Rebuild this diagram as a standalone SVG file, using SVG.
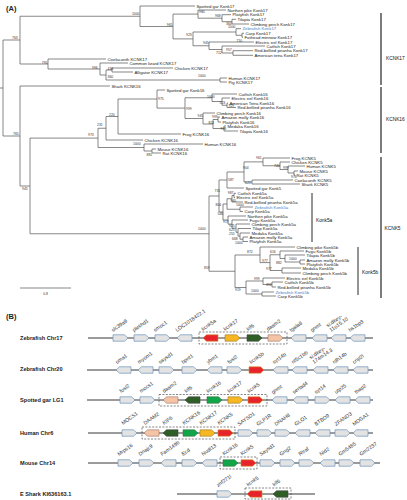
<svg xmlns="http://www.w3.org/2000/svg" width="407" height="500" viewBox="0 0 407 500">
<style>
text{font-family:"Liberation Sans",Arial,sans-serif;fill:#222}
.lf{font-size:4.3px}
.bl{fill:#3f7fc6}
.bs{font-size:3.4px;fill:#333}
.br{font-size:4.8px;fill:#111}
.hd{font-size:7.5px;font-weight:bold}
.rl{font-size:5.6px;font-weight:bold}
.gt{font-size:5.2px;fill:#333}
.tr{fill:none;stroke:#555;stroke-width:.7}
.bk{fill:none;stroke:#111;stroke-width:1.1}
.bb{fill:none;stroke:#111;stroke-width:.9}
.ln{stroke:#222;stroke-width:.9}
.bx{fill:none;stroke:#333;stroke-width:.6;stroke-dasharray:2 1.4}
.g{fill:#e3e3e3;stroke:#6b93bd;stroke-width:.7}
.r{fill:#e8222b;stroke:#c9952e;stroke-width:.6}
.y{fill:#f6b722;stroke:#9a7a30;stroke-width:.6}
.dg{fill:#2f5e27;stroke:#444;stroke-width:.6}
.lg{fill:#12a64b;stroke:#3d6e3d;stroke-width:.6}
.s{fill:#f5c3a6;stroke:#9a7a6a;stroke-width:.6}
</style>
<defs>
<path id="gr" d="M0,-3.2H11.5L15,0L11.5,3.2H0Z"/>
<path id="gl" d="M0,0L3.5,-3.2H15V3.2H3.5Z"/>
</defs>
<rect x="0" y="0" width="407" height="500" fill="#fff"/>
<text class="hd" x="6" y="11">(A)</text>
<g id="connectors">
<path class="tr" d="M3 40V136M0 88H3M3 40H20M3 136H20
M20 16.25V64M20 16.25H140M20 64H48
M140 6V26.5M140 6H195M140 26.5H173
M173 14.1V38.9M173 14.1H198M173 38.9H193
M198 10V18.2M198 10H226M198 18.2H222
M222 14.7V21.7M222 14.7H231M222 21.7H232
M232 19.3V24M232 19.3H236M232 24H249
M193 32V45.75M193 32H236M193 45.75H209
M236 28.7V35.3M236 28.7H241M236 35.3H242
M242 33.3V37.3M242 33.3H244M242 37.3H243
M209 42V49.5M209 42H254M209 49.5H222
M222 46V53M222 46H265M222 53H233
M233 50.7V55.3M233 50.7H253M233 55.3H253
M48 59V69M48 59H106M48 69H100
M100 63V75M100 63H128M100 75H106
M106 70V80M106 70H112M106 80H220
M112 68V72M112 68H173M112 72H133
M220 78V82M220 78H227M220 82H227
M20 86V186M20 86H110M20 186H30
M30 138.1V233.75M30 138.1H98M30 233.75H209
M98 128.25V147.5M98 128.25H106M98 147.5H144
M106 116.5V140M106 116.5H118M106 140H143
M118 99V134M118 99H157M118 134H181
M157 90V108.1M157 90H165M157 108.1H185
M185 97.75V118.5M185 97.75H212M185 118.5H203
M212 94V101.5M212 94H237M212 101.5H222
M222 98V105.25M222 98H230M222 105.25H227
M227 103V107.5M227 103H228M227 107.5H236
M203 113V124M203 113H215M203 124H213
M213 119.5V128.5M213 119.5H218M213 128.5H224
M218 117V122M218 117H220M218 122H221
M224 126V131M224 126H226M224 131H238
M144 144V151M144 144H203M144 151H152
M152 149V153M152 149H156M152 153H161
M209 196V271.25M209 196H219M209 271.25H235
M219 180V212M219 180H227M219 212H223
M227 172V188M227 172H244M227 188H244
M244 161.9V182M244 161.9H263M244 182H252
M263 158V165.75M263 158H290M263 165.75H280
M280 162V169.5M280 162H290M280 169.5H288
M288 166V173M288 166H305M288 173H294
M294 171V175M294 171H298M294 175H295
M252 180V184M252 180H293M252 184H300
M223 204V220M223 204H227M223 220H228
M227 198.75V209.25M227 198.75H232M227 209.25H240
M232 195.5V202M232 195.5H234M232 202H243
M234 193.3V197.7M234 193.3H236M234 197.7H235
M240 207V211.5M240 207H253M240 211.5H243
M228 216V224.1M228 216H246M228 224.1H232
M232 220V228.2M232 220H248M232 228.2H236
M236 224V232.3M236 224H250M236 232.3H238
M238 228.5V236.1M238 228.5H251M238 236.1H240
M240 233V239.25M240 233H250M240 239.25H243
M243 237V241.5M243 237H248M243 241.5H248
M235 255V287.5M235 255H260M235 287.5H246
M260 247V262.6M260 247H295M260 262.6H270
M270 254.75V270.5M270 254.75H280M270 270.5H282
M280 251V258.5M280 251H304M280 258.5H285
M285 255V262M285 255H305M285 262H300
M300 260V264M300 260H305M300 264H305
M282 268V273M282 268H301M282 273H301
M246 281V294M246 281H263M246 294H262
M263 278V284.5M263 278H285M263 284.5H272
M272 282V287M272 282H283M272 287H276
M262 292V296M262 292H274M262 296H276"/>
<path class="tr" d="M20 288H71"/>
</g>
<text class="bs" x="45.5" y="295" text-anchor="middle">0.8</text>
<g id="leaves">
<text class="lf" x="196.5" y="7.5">Spotted gar Konk17</text>
<text class="lf" x="227.5" y="11.5">Northen pike Konk17</text>
<text class="lf" x="232.5" y="16.2">Platyfish Konk17</text>
<text class="lf" x="237.5" y="20.8">Tilapia Konk17</text>
<text class="lf" x="250.5" y="25.5">Climbing perch Konk17</text>
<text class="lf bl" x="242.5" y="30.2">Zebrafish Konk17</text>
<text class="lf" x="245.5" y="34.8">Carp Konk17</text>
<text class="lf" x="244.5" y="38.8">Fathead minnow Konk17</text>
<text class="lf" x="255.5" y="43.5">Electric eel Konk17</text>
<text class="lf" x="266.5" y="47.5">Catfish Konk17</text>
<text class="lf" x="254.5" y="52.2">Red-bellied piranha Konk17</text>
<text class="lf" x="254.5" y="56.8">American tetra Konk17</text>
<text class="lf" x="107.5" y="60.5">Coelacanth KCNK17</text>
<text class="lf" x="129.5" y="64.5">Common lizard KCNK17</text>
<text class="lf" x="174.5" y="69.5">Chicken KCNK17</text>
<text class="lf" x="134.5" y="73.5">Alligator KCNK17</text>
<text class="lf" x="228.5" y="79.5">Human KCNK17</text>
<text class="lf" x="228.5" y="83.5">Pig KCNK17</text>
<text class="lf" x="111.5" y="87.5">Shark KCNK16</text>
<text class="lf" x="166.5" y="91.5">Spotted gar Konk16</text>
<text class="lf" x="238.5" y="95.5">Catfish Konk16</text>
<text class="lf" x="231.5" y="99.5">Electric eel Konk16</text>
<text class="lf" x="229.5" y="104.5">American Tetra Konk16</text>
<text class="lf" x="237.5" y="109">Red-bellied piranha Konk16</text>
<text class="lf" x="216.5" y="114.5">Climbing perch Konk16</text>
<text class="lf" x="221.5" y="118.5">Amazon molly Konk16</text>
<text class="lf" x="222.5" y="123.5">Platyfish Konk16</text>
<text class="lf" x="227.5" y="127.5">Medaka Konk16</text>
<text class="lf" x="239.5" y="132.5">Tilapia Konk16</text>
<text class="lf" x="182.5" y="135.5">Frog KCNK16</text>
<text class="lf" x="144.5" y="141.5">Chicken KCNK16</text>
<text class="lf" x="204.5" y="145.5">Human KCNK16</text>
<text class="lf" x="157.5" y="150.5">Mouse KCNK16</text>
<text class="lf" x="162.5" y="154.5">Rat KCNK16</text>
<text class="lf" x="291.5" y="159.5">Frog KCNK5</text>
<text class="lf" x="291.5" y="163.5">Chicken KCNK5</text>
<text class="lf" x="306.5" y="167.5">Human KCNK5</text>
<text class="lf" x="299.5" y="172.5">Mouse KCNK5</text>
<text class="lf" x="296.5" y="176.5">Rat KCNK5</text>
<text class="lf" x="294.5" y="181.5">Coelacanth KCNK5</text>
<text class="lf" x="301.5" y="185.5">Shark KCNK5</text>
<text class="lf" x="245.5" y="189.5">Spotted gar Konk5</text>
<text class="lf" x="237.5" y="194.8">Catfish Konk5a</text>
<text class="lf" x="236.5" y="199.2">Electric eel Konk5a</text>
<text class="lf" x="244.5" y="203.6">Red-bellied piranha Konk5a</text>
<text class="lf bl" x="254.5" y="208.5">Zebrafish Konk5a</text>
<text class="lf" x="244.5" y="213">Carp Konk5a</text>
<text class="lf" x="247.5" y="217.5">Northen pike Konk5a</text>
<text class="lf" x="249.5" y="221.5">Fugu Konk5a</text>
<text class="lf" x="251.5" y="225.5">Climbing perch Konk5a</text>
<text class="lf" x="252.5" y="230">Tilap Konk5a</text>
<text class="lf" x="251.5" y="234.5">Medaka Konk5a</text>
<text class="lf" x="249.5" y="238.5">Amazon molly Konk5a</text>
<text class="lf" x="249.5" y="243">Platyfish Konk5a</text>
<text class="lf" x="296.5" y="248.5">Climbing pike Konk5b</text>
<text class="lf" x="305.5" y="252.5">Fugu Konk5b</text>
<text class="lf" x="306.5" y="256.5">Tilapia Konk5b</text>
<text class="lf" x="306.5" y="261.5">Amazon molly Konk5b</text>
<text class="lf" x="306.5" y="265.5">Platyfish Konk5b</text>
<text class="lf" x="302.5" y="269.5">Medaka Konk5b</text>
<text class="lf" x="302.5" y="274.5">Climbing perch Konk5b</text>
<text class="lf" x="286.5" y="279.5">Electric eel Konk5b</text>
<text class="lf" x="284.5" y="283.5">Catfish Konk5b</text>
<text class="lf" x="277.5" y="288.5">Red-bellied piranha Konk5b</text>
<text class="lf bl" x="275.5" y="293.5">Zebrafish Konk5b</text>
<text class="lf" x="277.5" y="297.5">Carp Konk5b</text>
</g>
<g id="bootstrap">
<text class="bs" x="12" y="38.5">763</text>
<text class="bs" x="139.5" y="15" text-anchor="end">1000</text>
<text class="bs" x="172.5" y="26" text-anchor="end">965</text>
<text class="bs" x="199" y="13">980</text>
<text class="bs" x="215" y="17">968</text>
<text class="bs" x="226" y="25">364</text>
<text class="bs" x="235.5" y="28.2" text-anchor="end">1000</text>
<text class="bs" x="236.5" y="41.5">710</text>
<text class="bs" x="186" y="36">923</text>
<text class="bs" x="203" y="44">945</text>
<text class="bs" x="226" y="51">957</text>
<text class="bs" x="216" y="54">712</text>
<text class="bs" x="47.5" y="63.5" text-anchor="end">795</text>
<text class="bs" x="92" y="68.5">996</text>
<text class="bs" x="107.5" y="69.8">436</text>
<text class="bs" x="107.5" y="77.5">360</text>
<text class="bs" x="198" y="77">1000</text>
<text class="bs" x="13" y="134.5">765</text>
<text class="bs" x="22" y="190">945</text>
<text class="bs" x="88" y="135.5">973</text>
<text class="bs" x="97" y="126">231</text>
<text class="bs" x="109" y="116">220</text>
<text class="bs" x="158" y="100">975</text>
<text class="bs" x="186" y="110">999</text>
<text class="bs" x="207" y="98">1000</text>
<text class="bs" x="219.5" y="104">523</text>
<text class="bs" x="228.5" y="107">929</text>
<text class="bs" x="197.5" y="117">945</text>
<text class="bs" x="212" y="118.2">999</text>
<text class="bs" x="208.5" y="124">824</text>
<text class="bs" x="220.5" y="130.2">998</text>
<text class="bs" x="133" y="145">1000</text>
<text class="bs" x="146.5" y="155.5">881</text>
<text class="bs" x="198" y="229.5">1000</text>
<text class="bs" x="214.5" y="192">731</text>
<text class="bs" x="228" y="181">587</text>
<text class="bs" x="243" y="169">904</text>
<text class="bs" x="256" y="159">961</text>
<text class="bs" x="274" y="167">740</text>
<text class="bs" x="283" y="168.5">999</text>
<text class="bs" x="291" y="177.5">976</text>
<text class="bs" x="245" y="183.5">623</text>
<text class="bs" x="233.5" y="193.5" text-anchor="end">987</text>
<text class="bs" x="230.5" y="202">940</text>
<text class="bs" x="215.5" y="206">804</text>
<text class="bs" x="236" y="206">1000</text>
<text class="bs" x="217.5" y="214.5">546</text>
<text class="bs" x="223" y="223">917</text>
<text class="bs" x="229" y="227.2">925</text>
<text class="bs" x="229" y="231.2">625</text>
<text class="bs" x="229" y="235.2">255</text>
<text class="bs" x="232" y="239.5">668</text>
<text class="bs" x="235" y="243.5">1000</text>
<text class="bs" x="204" y="269">859</text>
<text class="bs" x="247" y="253">872</text>
<text class="bs" x="270" y="253">616</text>
<text class="bs" x="262" y="262">977</text>
<text class="bs" x="276" y="263.5">882</text>
<text class="bs" x="289" y="259.5">1000</text>
<text class="bs" x="266" y="269.5">977</text>
<text class="bs" x="254" y="279.5">999</text>
<text class="bs" x="266" y="285.5">392</text>
<text class="bs" x="235" y="291">919</text>
<text class="bs" x="251" y="292">1000</text>
</g>
<g id="clades">
<path class="bk" d="M381 13V85M381 87V153M381 157V298"/>
<path class="bb" d="M312 193V242M358 247V295"/>
<text class="br" x="386" y="59.5">KCNK17</text>
<text class="br" x="386" y="120.5">KCNK16</text>
<text class="br" x="384.5" y="230">KCNK5</text>
<text class="br" x="316" y="222">Konk5a</text>
<text class="br" x="362" y="273.5">Konk5b</text>
</g>
<text class="hd" x="6" y="319">(B)</text>
<g id="row-zebrafish-chr17">
<text class="rl" x="20" y="340">Zebrafish Chr17</text>
<line class="ln" x1="88" y1="338" x2="373" y2="338"/>
<rect class="bx" x="199" y="332" width="88" height="12"/>
<use class="g" href="#gr" x="113" y="338"/><use class="g" href="#gr" x="134" y="338"/><use class="g" href="#gr" x="155" y="338"/><use class="g" href="#gl" x="177" y="338"/>
<use class="r" href="#gl" x="203" y="338"/><use class="y" href="#gr" x="225" y="338"/><use class="dg" href="#gr" x="247" y="338"/><use class="s" href="#gr" x="268" y="338"/>
<use class="g" href="#gl" x="291" y="338"/><use class="g" href="#gl" x="312" y="338"/><use class="g" href="#gl" x="331" y="338"/><use class="g" href="#gl" x="350" y="338"/>
<text class="gt" transform="translate(113,332) rotate(-35)">slc39a9</text>
<text class="gt" transform="translate(134,332) rotate(-35)">plekhd1</text>
<text class="gt" transform="translate(155,332) rotate(-35)">smoc1</text>
<text class="gt" transform="translate(177,332) rotate(-35)">LOC1018422.1</text>
<text class="gt" transform="translate(203,331) rotate(-35)">kcnk5a</text>
<text class="gt" transform="translate(225,331) rotate(-35)">kcnk17</text>
<text class="gt" transform="translate(248,331) rotate(-35)">kif6</text>
<text class="gt" transform="translate(268,331) rotate(-35)">daam2</text>
<text class="gt" transform="translate(291,332) rotate(-35)">tgala8</text>
<text class="gt" transform="translate(312,332) rotate(-35)">gnmt</text>
<text class="gt" transform="translate(331,332) rotate(-35)"><tspan x="0" dy="-5.5">si:dkey-</tspan><tspan x="0" dy="5.5">11o15.10</tspan></text>
<text class="gt" transform="translate(350,332) rotate(-35)">hs1bp3</text>
</g>
<g id="row-zebrafish-chr20">
<text class="rl" x="20" y="371">Zebrafish Chr20</text>
<line class="ln" x1="87" y1="370" x2="373" y2="370"/>
<use class="g" href="#gl" x="116" y="370"/><use class="g" href="#gl" x="138" y="370"/><use class="g" href="#gr" x="159" y="370"/><use class="g" href="#gr" x="182" y="370"/>
<use class="g" href="#gl" x="207" y="370"/><use class="g" href="#gr" x="227" y="370"/><use class="r" href="#gr" x="249" y="370"/><use class="g" href="#gl" x="273" y="370"/>
<use class="g" href="#gl" x="292" y="370"/><use class="g" href="#gl" x="313" y="370"/><use class="g" href="#gl" x="333" y="370"/><use class="g" href="#gl" x="353" y="370"/>
<text class="gt" transform="translate(117,364) rotate(-35)">oma1</text>
<text class="gt" transform="translate(139,364) rotate(-35)">myom1</text>
<text class="gt" transform="translate(160,364) rotate(-35)">saysd1</text>
<text class="gt" transform="translate(183,364) rotate(-35)">bpnt1</text>
<text class="gt" transform="translate(208,364) rotate(-35)">ybm1</text>
<text class="gt" transform="translate(229,364) rotate(-35)">fosl2</text>
<text class="gt" transform="translate(251,364) rotate(-35)">kcnk5b</text>
<text class="gt" transform="translate(274,364) rotate(-35)">syt14b</text>
<text class="gt" transform="translate(293,364) rotate(-35)">nt5c1bb</text>
<text class="gt" transform="translate(314,364) rotate(-35)"><tspan x="0" dy="-5.5">si:dkey-</tspan><tspan x="0" dy="5.5">174m14.3</tspan></text>
<text class="gt" transform="translate(334,364) rotate(-35)">rdh14b</text>
<text class="gt" transform="translate(354,364) rotate(-35)">crip2l</text>
</g>
<g id="row-spotted-gar-lg1">
<text class="rl" x="20" y="402">Spotted gar LG1</text>
<line class="ln" x1="87" y1="400" x2="373" y2="400"/>
<rect class="bx" x="159" y="394.5" width="108" height="11.5"/>
<use class="g" href="#gr" x="120" y="400"/><use class="g" href="#gr" x="140" y="400"/><use class="s" href="#gl" x="163" y="400"/><use class="dg" href="#gl" x="185" y="400"/>
<use class="lg" href="#gr" x="207" y="400"/><use class="y" href="#gr" x="228" y="400"/><use class="r" href="#gr" x="248" y="400"/><use class="g" href="#gl" x="272" y="400"/>
<use class="g" href="#gl" x="293" y="400"/><use class="g" href="#gr" x="315" y="400"/><use class="g" href="#gl" x="335" y="400"/><use class="g" href="#gl" x="355" y="400"/>
<text class="gt" transform="translate(121,393) rotate(-35)">fosl2</text>
<text class="gt" transform="translate(141,393) rotate(-35)">mocs1</text>
<text class="gt" transform="translate(164,393) rotate(-35)">daam2</text>
<text class="gt" transform="translate(186,393) rotate(-35)">kif6</text>
<text class="gt" transform="translate(208,393) rotate(-35)">kcnk16</text>
<text class="gt" transform="translate(229,393) rotate(-35)">kcnk17</text>
<text class="gt" transform="translate(249,393) rotate(-35)">kcnk5</text>
<text class="gt" transform="translate(273,394) rotate(-35)">gnmt</text>
<text class="gt" transform="translate(294,394) rotate(-35)">sertad4</text>
<text class="gt" transform="translate(316,394) rotate(-35)">syt14</text>
<text class="gt" transform="translate(336,394) rotate(-35)">utp25</text>
<text class="gt" transform="translate(356,394) rotate(-35)">thap2</text>
</g>
<g id="row-human-chr6">
<text class="rl" x="20" y="435">Human Chr6</text>
<line class="ln" x1="88" y1="433" x2="373" y2="433"/>
<rect class="bx" x="142" y="427" width="93" height="12"/>
<use class="g" href="#gr" x="122" y="433"/><use class="s" href="#gl" x="144" y="433"/><use class="dg" href="#gl" x="163" y="433"/><use class="lg" href="#gr" x="183" y="433"/>
<use class="y" href="#gr" x="200" y="433"/><use class="r" href="#gr" x="218" y="433"/><use class="g" href="#gr" x="238" y="433"/><use class="g" href="#gr" x="257" y="433"/>
<use class="g" href="#gr" x="275" y="433"/><use class="g" href="#gl" x="295" y="433"/><use class="g" href="#gl" x="315" y="433"/><use class="g" href="#gr" x="335" y="433"/><use class="g" href="#gl" x="353" y="433"/>
<text class="gt" transform="translate(123,425) rotate(-35)">MOCS1</text>
<text class="gt" transform="translate(145,425) rotate(-35)">DAAM2</text>
<text class="gt" transform="translate(164,425) rotate(-35)">KIF6</text>
<text class="gt" transform="translate(184,425) rotate(-35)">KCNK16</text>
<text class="gt" transform="translate(201,425) rotate(-35)">KCNK17</text>
<text class="gt" transform="translate(219,425) rotate(-35)">KCNK5</text>
<text class="gt" transform="translate(239,426) rotate(-35)">SAYSD1</text>
<text class="gt" transform="translate(258,426) rotate(-35)">GLP1R</text>
<text class="gt" transform="translate(276,426) rotate(-35)">DNAH8</text>
<text class="gt" transform="translate(296,426) rotate(-35)">GLO1</text>
<text class="gt" transform="translate(316,426) rotate(-35)">BTBD9</text>
<text class="gt" transform="translate(336,426) rotate(-35)">ZFAND3</text>
<text class="gt" transform="translate(354,426) rotate(-35)">MDGA1</text>
</g>
<g id="row-mouse-chr14">
<text class="rl" x="20" y="465">Mouse Chr14</text>
<line class="ln" x1="88" y1="463" x2="380" y2="463"/>
<rect class="bx" x="220" y="457" width="37" height="12"/>
<use class="g" href="#gr" x="118" y="463"/><use class="g" href="#gr" x="139" y="463"/><use class="g" href="#gl" x="161" y="463"/><use class="g" href="#gr" x="182" y="463"/><use class="g" href="#gl" x="202" y="463"/>
<use class="lg" href="#gr" x="223" y="463"/><use class="r" href="#gr" x="241" y="463"/><use class="g" href="#gr" x="260" y="463"/><use class="g" href="#gr" x="280" y="463"/>
<use class="g" href="#gr" x="299" y="463"/><use class="g" href="#gl" x="320" y="463"/><use class="g" href="#gr" x="339" y="463"/><use class="g" href="#gr" x="360" y="463"/>
<text class="gt" transform="translate(119,456) rotate(-35)">Mrps16</text>
<text class="gt" transform="translate(140,456) rotate(-35)">Dnajc9</text>
<text class="gt" transform="translate(162,456) rotate(-35)">Fam149b</text>
<text class="gt" transform="translate(183,456) rotate(-35)">Ecd</text>
<text class="gt" transform="translate(203,456) rotate(-35)">Nudt13</text>
<text class="gt" transform="translate(224,455.5) rotate(-35)">Kcnk16</text>
<text class="gt" transform="translate(242,455.5) rotate(-35)">Kcnk5</text>
<text class="gt" transform="translate(261,456) rotate(-35)">Saysd1</text>
<text class="gt" transform="translate(281,456) rotate(-35)">Gng2</text>
<text class="gt" transform="translate(300,456) rotate(-35)">Rtraf</text>
<text class="gt" transform="translate(321,456) rotate(-35)">Nid2</text>
<text class="gt" transform="translate(340,456) rotate(-35)">Gm5485</text>
<text class="gt" transform="translate(361,456) rotate(-35)">Gm2237</text>
</g>
<g id="row-e-shark">
<text class="rl" x="20" y="496">E Shark KI636163.1</text>
<line class="ln" x1="177" y1="494" x2="315" y2="494"/>
<rect class="bx" x="245" y="488" width="46" height="11"/>
<use class="g" href="#gr" x="217" y="494"/><use class="r" href="#gl" x="247" y="494"/><use class="dg" href="#gl" x="273" y="494"/>
<text class="gt" transform="translate(218,487) rotate(-35)">znf271l</text>
<text class="gt" transform="translate(248,486.5) rotate(-35)">kcnk5</text>
<text class="gt" transform="translate(274,486.5) rotate(-35)">kif6</text>
</g>
</svg>
